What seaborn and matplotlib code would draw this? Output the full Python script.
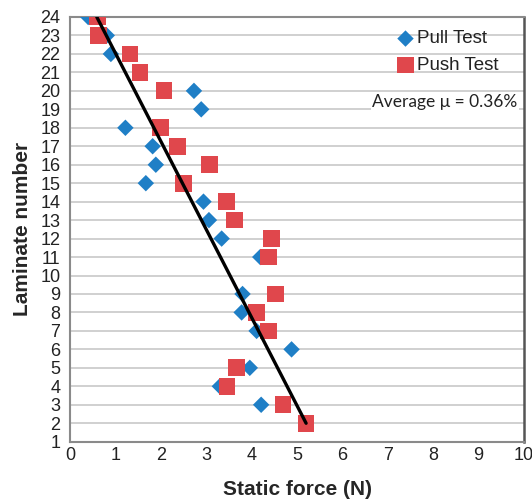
import matplotlib
matplotlib.use("Agg")
import matplotlib.pyplot as plt
import seaborn as sns
import pandas as pd

pull_y = [24, 23, 22, 20, 19, 18, 17, 16, 15, 14, 13, 12, 11, 9, 8, 7, 6, 5, 4, 3]
pull_x = [0.40, 0.81, 0.90, 2.73, 2.89, 1.22, 1.82, 1.89, 1.67, 2.94, 3.06, 3.34, 4.19,
          3.80, 3.78, 4.11, 4.88, 3.96, 3.30, 4.21]
push_y = [24, 23, 22, 21, 20, 18, 17, 16, 15, 14, 13, 12, 11, 9, 8, 7, 5, 4, 3, 2]
push_x = [0.60, 0.62, 1.32, 1.54, 2.07, 2.00, 2.36, 3.07, 2.50, 3.45, 3.63, 4.44, 4.37,
          4.52, 4.11, 4.37, 3.67, 3.46, 4.69, 5.20]
trend_x = [0.59, 5.20]
trend_y = [24, 2]
x_ticks = list(range(0, 11))
y_ticks = list(range(1, 25))

sns.set_style("white")
plt.rcParams['font.family'] = ['Liberation Sans', 'DejaVu Sans']

fig = plt.figure(figsize=(5.32, 5.0), dpi=100)
ax = fig.add_axes([0.1316, 0.1166, 0.8534, 0.8494])

pull_df = pd.DataFrame({"x": pull_x, "y": pull_y})
push_df = pd.DataFrame({"x": push_x, "y": push_y})

ax.set_xlim(0, 10)
ax.set_ylim(1, 24)
ax.set_xticks(x_ticks)
ax.set_yticks(y_ticks)
ax.grid(axis='y', color='#c8c8c8', linewidth=1.2, zorder=0)
ax.set_axisbelow(True)

sns.scatterplot(data=pull_df, x="x", y="y", ax=ax, marker="D", s=70, color="#1f7fc6",
                edgecolor="none", label="Pull Test", zorder=3)
sns.scatterplot(data=push_df, x="x", y="y", ax=ax, marker="s", s=145, color="#e0474c",
                edgecolor="none", label="Push Test", zorder=4)
sns.lineplot(x=trend_x, y=trend_y, ax=ax, color="black", linewidth=2.4, zorder=5,
             legend=False)

for s in ['left', 'bottom', 'top']:
    ax.spines[s].set_color('#8a8a8a')
    ax.spines[s].set_linewidth(1.5)
ax.spines['right'].set_color('#555555')
ax.spines['right'].set_linewidth(1.8)

ax.tick_params(axis='x', labelsize=13, length=0, pad=4, colors='#222222')
ax.tick_params(axis='y', labelsize=13, length=0, pad=7, colors='#222222')
ax.set_xlabel("Static force (N)", fontsize=15, fontweight='bold', labelpad=11)
ax.set_ylabel("Laminate number", fontsize=15, fontweight='bold', labelpad=6)

leg = ax.legend(loc='upper right', bbox_to_anchor=(0.968, 0.995), frameon=False,
                fontsize=13.5, handletextpad=-0.2, handlelength=1.6, labelspacing=0.5,
                markerscale=1.0, borderaxespad=0.2)
for t in leg.get_texts():
    t.set_color('#222222')

ax.text(0.985, 0.80, "Average \u03bc = 0.36%", transform=ax.transAxes, ha='right',
        va='center', fontsize=12.5, family=['Lato', 'DejaVu Sans'], color='#222222',
        bbox=dict(facecolor='white', edgecolor='none', pad=1))

fig.savefig("out.png", dpi=100)
